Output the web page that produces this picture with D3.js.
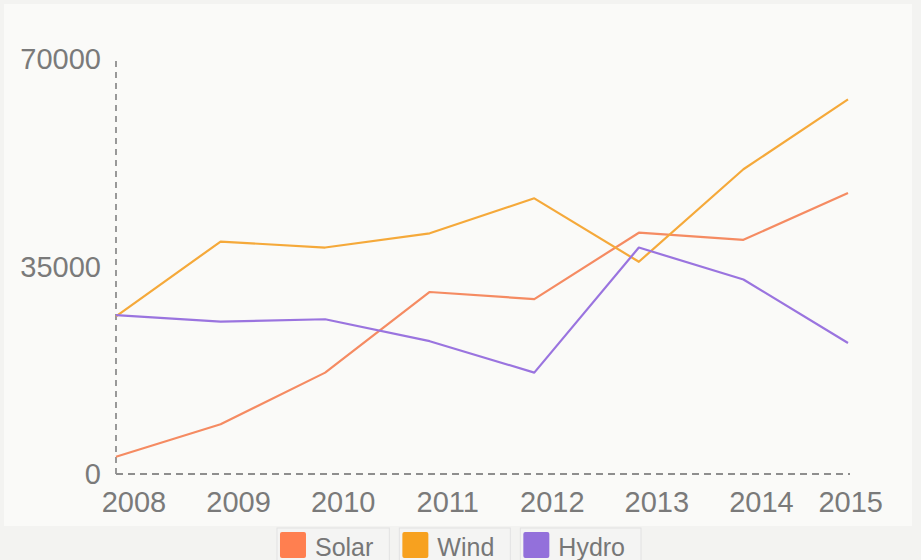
<!DOCTYPE html>
<html><head><meta charset="utf-8">
<script src="https://cdn.jsdelivr.net/npm/d3@7"></script>
<style>
html,body{margin:0;padding:0;background:#f3f3f1;}
svg{display:block;font-family:"Liberation Sans",Arial,Helvetica,sans-serif;}
</style></head>
<body>
<svg id="chart" width="921" height="560"></svg>
<script>
const years = ["2008","2009","2010","2011","2012","2013","2014","2015"];
const solar = [2900, 8400, 17100, 30700, 29500, 40700, 39500, 47400];
const wind  = [26600, 39200, 38200, 40600, 46500, 35800, 51400, 63200];
const hydro = [26800, 25700, 26100, 22400, 17100, 38200, 32800, 22100];
const yTicks = [0, 35000, 70000];
const seriesNames = ["Solar","Wind","Hydro"];
const lineColors = ["#f58b62","#f5a93a","#9a74df"];
const swatchColors = ["#ff7f50","#f7a11f","#9370db"];

const series = [solar, wind, hydro];
const W = 921, H = 560;
const svg = d3.select("#chart");

svg.append("rect").attr("width",W).attr("height",H).attr("fill","#f3f3f1");
svg.append("rect").attr("x",4).attr("y",4).attr("width",908).attr("height",522).attr("fill","#fafaf8");

const x = d3.scalePoint().domain(years).range([116, 848]);
const y = d3.scaleLinear().domain([0, 70000]).range([474, 59]);

// axes (dashed)
const axisColor = "#8e8e8e";
svg.append("line").attr("x1",x(years[0])).attr("x2",x(years[0])).attr("y1",y(0)).attr("y2",y(70000))
  .attr("stroke",axisColor).attr("stroke-width",1.8).attr("stroke-dasharray","6,5");
svg.append("line").attr("x1",x(years[0])).attr("x2",x(years[years.length-1])+2).attr("y1",y(0)).attr("y2",y(0))
  .attr("stroke",axisColor).attr("stroke-width",1.8).attr("stroke-dasharray","7,5");

// y labels
svg.append("g").selectAll("text").data(yTicks).join("text")
  .attr("x",101).attr("y",d=>y(d)).attr("dy","0.36em")
  .attr("text-anchor","end").attr("font-size",29).attr("fill","#7a7a7a")
  .text(d=>d);

// x labels
const xl = svg.append("g").selectAll("text").data(years).join("text")
  .attr("y",512).attr("text-anchor","middle").attr("font-size",29).attr("fill","#7a7a7a")
  .text(d=>d);
xl.each(function(d){
  const w = this.getComputedTextLength();
  const cx = Math.min(x(d)+18, 883 - w/2);
  d3.select(this).attr("x", cx);
});

// lines
const line = d3.line().x((d,i)=>x(years[i])).y(d=>y(d));
svg.append("g").selectAll("path").data(series).join("path")
  .attr("d",d=>line(d)).attr("fill","none")
  .attr("stroke",(d,i)=>lineColors[i]).attr("stroke-width",2.2)
  .attr("stroke-linejoin","round");

// legend
const lg = svg.append("g");
const items = lg.selectAll("g").data(seriesNames).join("g");
items.append("rect").attr("class","box").attr("x",0).attr("y",528).attr("height",40)
  .attr("fill","#f4f4f3").attr("stroke","#e2e2e2").attr("stroke-width",1);
items.append("rect").attr("class","sw").attr("x",3).attr("y",532).attr("width",26).attr("height",26).attr("rx",2)
  .attr("fill",(d,i)=>swatchColors[i]);
items.append("text").attr("x",38).attr("y",556).attr("font-size",25).attr("fill","#777")
  .text(d=>d);
const widths = [];
items.each(function(){ widths.push(d3.select(this).select("text").node().getComputedTextLength() + 38 + 16); });
const gap = 10;
const total = d3.sum(widths) + gap*(widths.length-1);
let cur = 459 - total/2;
items.each(function(d,i){
  d3.select(this).attr("transform",`translate(${cur},0)`);
  d3.select(this).select(".box").attr("width",widths[i]);
  cur += widths[i] + gap;
});
</script>
</body></html>
